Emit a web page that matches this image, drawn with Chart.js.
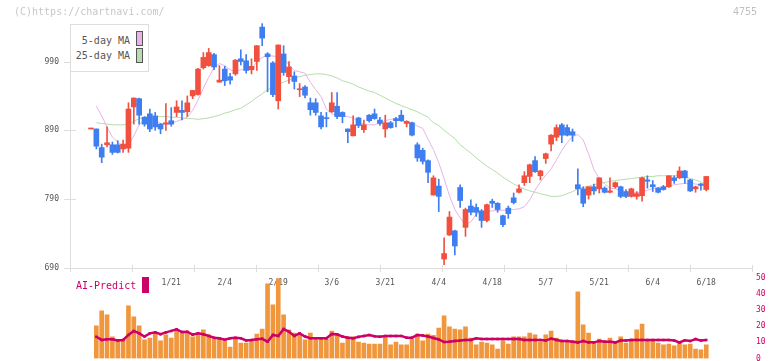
<!DOCTYPE html>
<html><head><meta charset="utf-8">
<script src="https://cdn.jsdelivr.net/npm/chart.js@4.4.1/dist/chart.umd.min.js"></script>
<style>
html,body{margin:0;padding:0;background:#fff;width:772px;height:361px;overflow:hidden;position:relative;font-family:"DejaVu Sans Mono",monospace;}
canvas{position:absolute;left:0;}
#c1{top:0;}
#c2{top:269px;}
.t{position:absolute;white-space:nowrap;font-size:10px;line-height:12px;}
#hdr{left:14px;top:6px;color:#c8c8c8;}
#code{left:733px;top:6px;color:#c0c0c0;}
#leg{position:absolute;left:70px;top:24px;width:77px;height:46px;border:1px solid #ddd;background:#fff;}
#leg .lt{position:absolute;right:18px;color:#555;font-size:10px;line-height:12px;white-space:nowrap;}
#leg .bx{position:absolute;left:65px;width:5px;height:13px;border:1px solid #555;}
#ai{left:76px;top:280px;color:#cc0066;}
#aibx{position:absolute;left:142px;top:277px;width:7px;height:16px;background:#cc0066;}
</style></head>
<body>
<canvas id="c1" width="772" height="284"></canvas>
<canvas id="c2" width="772" height="100"></canvas>
<div class="t" id="hdr">(C)https://chartnavi.com/</div>
<div class="t" id="code">4755</div>
<div id="leg">
  <div class="lt" style="top:10px">5-day MA</div>
  <div class="bx" style="top:6px;background:#e8b4e8"></div>
  <div class="lt" style="top:25px">25-day MA</div>
  <div class="bx" style="top:23px;background:#b8dcb0"></div>
</div>
<div class="t" id="ai">AI-Predict</div>
<div id="aibx"></div>
<script>
// ---- data ----
const openP = [892,892,865,869,869,869,863,864,924,936,909,914,911,899,899,904,916,919,917,940,942,981,984,1000,960,979,968,972,994,991,978,990,1040,1001,988,933,1001,968,969,949,953,930,930,911,908,917,925,916,892,882,908,891,912,914,905,892,901,907,912,900,901,869,861,846,796,809,703,738,744,807,749,780,778,773,759,787,784,766,777,792,800,814,823,846,824,849,870,880,898,894,888,811,805,796,808,805,806,800,808,808,801,794,794,795,818,811,806,808,808,821,821,831,818,805,812,804];
const highP = [892,892,870,895,873,875,876,930,937,937,910,921,916,900,929,923,933,933,940,948,980,1003,1009,1002,984,983,973,993,1007,1000,994,1013,1045,1003,990,1014,1013,990,975,958,955,937,936,916,916,945,945,917,892,911,909,905,913,921,909,912,903,909,919,904,902,872,864,847,824,819,734,772,745,811,777,789,783,775,783,790,785,767,780,799,811,830,841,852,832,857,884,898,900,898,892,834,808,808,812,821,808,821,815,809,804,806,801,822,824,817,807,810,824,824,837,832,819,809,813,823];
const lowP = [892,863,843,866,855,857,858,858,899,899,896,888,890,885,890,896,910,905,910,936,941,979,983,978,960,955,957,970,985,973,972,977,1013,946,939,921,970,958,950,939,937,912,912,892,895,916,907,901,872,882,894,887,902,906,897,880,893,895,903,895,882,845,841,814,796,772,695,737,709,778,736,767,765,749,757,778,771,750,762,783,799,810,814,829,818,842,860,875,872,882,874,796,779,790,797,799,799,799,806,792,792,793,790,787,806,801,799,803,807,813,820,813,801,800,803,802];
const closeP = [892,867,851,872,858,858,870,921,937,912,899,892,895,892,901,899,924,916,930,948,979,996,1003,982,963,962,963,992,990,977,983,1013,1024,997,942,1014,974,982,961,950,941,920,916,895,907,930,910,910,888,898,897,898,904,907,900,901,894,904,904,903,883,850,845,829,821,794,711,764,722,788,775,771,771,759,782,784,775,753,769,785,805,824,840,830,831,856,883,894,883,883,883,805,784,808,802,821,800,802,814,794,794,805,798,821,816,808,800,804,824,817,831,821,802,808,810,823];
const ma5 = [null,925,911,895,880,873,867,868,882,898,905,906,905,900,899,900,903,906,909,919,934,951,967,981,987,984,978,976,978,978,978,990,996,999,998,997,995,985,977,975,973,960,949,939,921,914,912,911,910,908,902,899,898,898,901,904,906,907,904,902,901,896,893,877,862,843,820,795,775,763,753,757,768,772,772,773,774,774,774,775,776,779,789,803,815,825,834,847,861,872,881,884,876,856,833,820,812,806,805,803,801,800,799,801,803,805,807,808,809,811,812,813,813,812,811,810];
const ma25 = [null,901,900,899,898,898,898,899,903,907,909,910,910,910,910,909,909,908,907,907,906,907,908,910,912,915,917,920,922,927,932,938,943,949,953,957,960,963,966,968,970,971,972,972,971,969,966,962,960,957,953,950,947,945,941,937,933,929,926,923,920,917,913,909,901,897,890,884,878,869,863,857,850,844,838,833,828,822,817,812,808,805,802,800,798,796,794,794,795,798,801,805,807,809,811,813,814,816,817,818,819,820,821,822,823,823,824,824,824,824,824,823,820,818,815,811];
const volume = [null,20.2,29.5,27,13.4,11.9,11.9,32.6,25.8,20.2,11.5,12.7,15.2,10.9,14.6,12.7,17,15.8,15.8,13.4,14.6,17.7,14.6,12.1,12.1,10.9,7.1,12.1,9.6,9.6,10.9,15.2,18.3,46.3,33.2,49.4,27,17.7,15.8,14.6,11.5,15.8,11.5,12.1,12.1,17,14.6,9.6,13.4,13.4,10.2,9.6,9,9,9,13.4,8.4,10.2,8.4,8.4,12.1,15.2,10.9,15.2,14.3,18.9,26.4,19.6,18.3,17.7,19.6,12.7,8.4,10.2,9.6,8.4,5.9,10.9,9,13.4,13.4,13.4,15.8,14.6,10.2,14.6,17,12.7,10.9,10.9,10.9,41.3,20.8,15.8,9.6,12.1,10.9,12.7,9.6,13.4,9.6,12.1,17.7,21.4,10.9,10.9,9.6,8.4,9,7.8,9.6,8.4,9,5.9,5.3,8.4];
const aiPredict = [null,13.5,11.5,11.9,11.9,11.2,11.5,14.6,17.1,15.6,13.6,15.6,16.2,15.0,16.2,17.1,18.1,16.4,16.6,14.8,15.6,15.0,14.0,12.9,12.5,11.6,12.5,12.9,12.5,11.2,11.5,11.9,12.2,10.4,14.6,14.0,18.2,16.6,14.0,15.6,13.6,12.6,12.5,12.5,12.5,15.2,15.0,13.6,12.9,12.5,13.4,14.0,14.6,13.8,13.5,14.0,14.0,14.0,14.0,12.9,12.9,14.6,14.3,13.6,12.7,11.8,10.2,10.4,10.8,11.1,11.5,11.5,12.5,12.1,12.1,12.1,12.1,12.1,12.1,12.1,12.1,11.5,11.5,11.5,11.5,11.1,12.3,11.5,10.8,10.8,10.4,10.0,10.8,10.0,10.0,10.8,10.4,10.4,10.0,11.1,11.1,11.5,11.5,11.5,11.5,11.5,11.5,11.5,11.5,11.1,10.0,11.3,10.8,12.0,11.1,11.5];
const dateLabels = ['1/21','2/4','2/19','3/6','3/21','4/4','4/18','5/7','5/21','6/4','6/18'];
const dateIndex = [15,25,35,45,55,65,75,85,95,105,115];
const priceTicks = [690,790,890,990];
const volTicks = [0,10,20,30,40,50];

// ---- styling / layout ----
const UP = '#f2503f', DOWN = '#3f7ef0';
const X_MIN = -3.925, X_MAX = 123.55;
const MONO = '"DejaVu Sans Mono", monospace';
const idx = closeP.map((_, i) => i);
const candleColor = idx.map(i => closeP[i] >= openP[i] ? UP : DOWN);

const axisPlugin = {
  id: 'axisMarks',
  beforeDatasetsDraw(chart) {
    const {ctx, chartArea: a, scales: {x, y}} = chart;
    ctx.save();
    ctx.strokeStyle = '#dddddd';
    ctx.lineWidth = 1;
    ctx.beginPath();
    const lx = Math.round(a.left) + 0.5, by = Math.round(a.bottom) + 0.5;
    ctx.moveTo(lx, a.top + 3); ctx.lineTo(lx, a.bottom + 4);
    ctx.moveTo(a.left, by); ctx.lineTo(a.right, by);
    priceTicks.forEach(v => {
      const py = Math.round(y.getPixelForValue(v)) + 0.5;
      ctx.moveTo(a.left - 6, py); ctx.lineTo(a.left + 6, py);
    });
    for (let k = 0; k <= 11; k++) {
      const px = Math.round(x.getPixelForValue(X_MIN + k * (X_MAX - X_MIN) / 11)) + 0.5;
      ctx.moveTo(px, a.bottom - 3); ctx.lineTo(px, a.bottom + 4);
    }
    ctx.stroke();
    ctx.restore();
  }
};

const hiddenX = {
  type: 'linear', min: X_MIN, max: X_MAX, offset: false, display: true, position: 'bottom',
  grid: { display: false, drawTicks: false }, border: { display: false }, ticks: { display: false }
};

new Chart(document.getElementById('c1'), {
  type: 'bar',
  data: {
    datasets: [
      { type: 'line', data: idx.map(i => ({x: i, y: ma25[i]})), borderColor: '#b4dcaa', borderWidth: 1, pointRadius: 0, order: 4 },
      { type: 'line', data: idx.map(i => ({x: i, y: ma5[i]})), borderColor: '#e8b2e8', borderWidth: 1, pointRadius: 0, order: 3 },
      { type: 'bar', data: idx.map(i => ({x: i, y: [lowP[i], highP[i]]})), backgroundColor: candleColor, barThickness: 1, grouped: false, order: 2 },
      { type: 'bar', data: idx.map(i => ({x: i, y: [openP[i], closeP[i]]})), backgroundColor: candleColor, barThickness: 5, minBarLength: 1, grouped: false, order: 1 }
    ]
  },
  options: {
    responsive: false, animation: false, events: [],
    layout: { padding: { top: 22, bottom: 0, left: 0, right: 20 } },
    plugins: { legend: { display: false }, tooltip: { enabled: false } },
    scales: {
      x: Object.assign({}, hiddenX, { afterFit(s) { s.height = 16; } }),
      y: {
        type: 'linear', position: 'left', min: 690, max: 1047.4,
        afterFit(s) { s.width = 70; },
        afterBuildTicks(s) { s.ticks = priceTicks.map(v => ({value: v})); },
        grid: { display: false, drawTicks: false }, border: { display: false },
        ticks: { color: '#555', padding: 11, font: { family: MONO, size: 8 } }
      }
    }
  },
  plugins: [axisPlugin]
});

const datePlugin = {
  id: 'dateLabels',
  beforeDatasetsDraw(chart) {
    const {ctx, scales: {x}} = chart;
    ctx.save();
    ctx.fillStyle = '#555';
    ctx.font = '8px ' + MONO;
    ctx.textAlign = 'center';
    ctx.textBaseline = 'middle';
    dateIndex.forEach((d, k) => ctx.fillText(dateLabels[k], x.getPixelForValue(d), 13.5));
    ctx.restore();
  }
};

new Chart(document.getElementById('c2'), {
  type: 'bar',
  data: {
    datasets: [
      { type: 'line', data: idx.map(i => ({x: i, y: aiPredict[i]})), borderColor: '#cc0066', borderWidth: 2.5,
        pointStyle: 'rect', pointRadius: 1.8, pointBackgroundColor: '#cc0066', pointBorderWidth: 0, order: 1 },
      { type: 'bar', data: idx.map(i => ({x: i, y: volume[i]})), backgroundColor: '#f0963c', barThickness: 4, grouped: false, order: 2 }
    ]
  },
  options: {
    responsive: false, animation: false, events: [],
    layout: { padding: { top: 0, bottom: 0, left: 70, right: 0 } },
    plugins: { legend: { display: false }, tooltip: { enabled: false } },
    scales: {
      x: Object.assign({}, hiddenX, { afterFit(s) { s.height = 10.5; } }),
      y: {
        type: 'linear', position: 'right', min: 0, max: 50,
        afterFit(s) { s.width = 20; },
        afterBuildTicks(s) { s.ticks = volTicks.map(v => ({value: v})); },
        grid: { display: false, drawTicks: false }, border: { display: false },
        ticks: { color: '#cc0066', padding: 4, font: { family: MONO, size: 8 } }
      }
    }
  },
  plugins: [datePlugin]
});
</script>
</body></html>
